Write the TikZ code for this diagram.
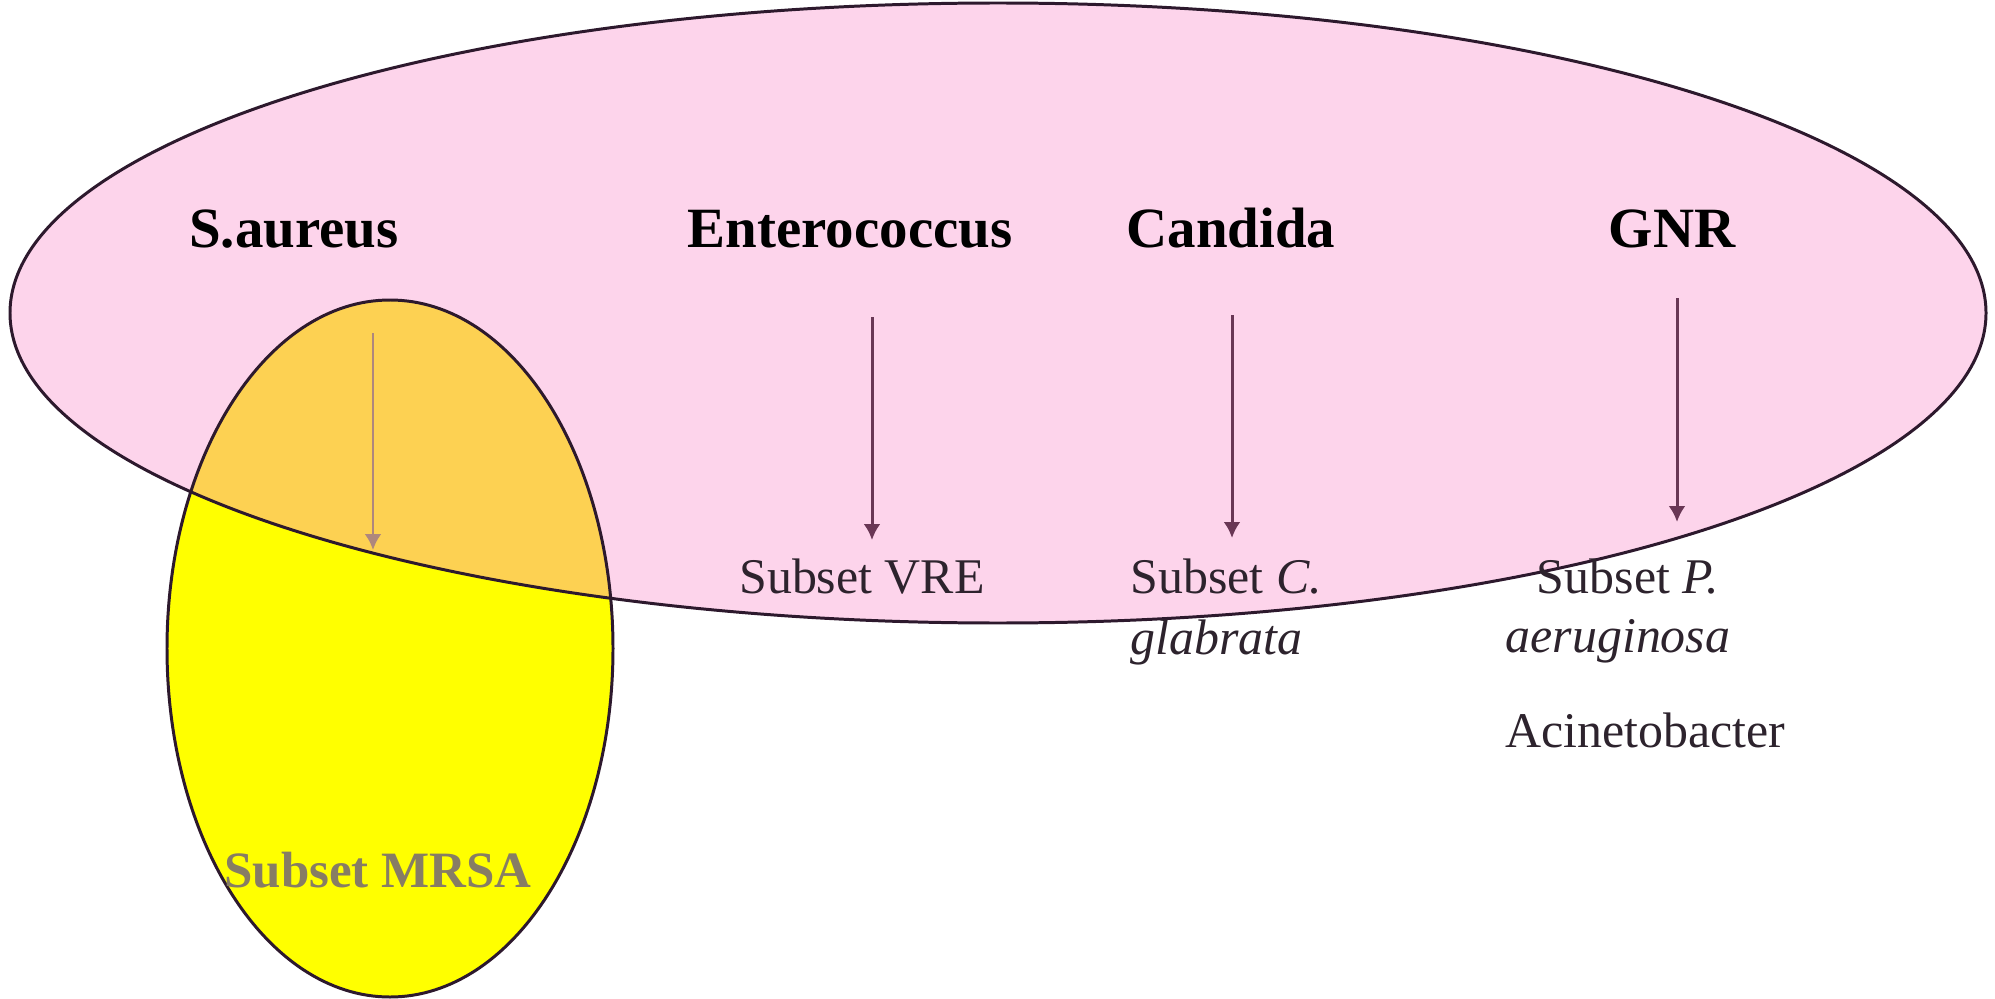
\documentclass[tikz,border=0pt]{standalone}
\usepackage{fontspec}
\setmainfont{Liberation Serif}
\usepackage{tikz}
\usetikzlibrary{calc, arrows.meta}
\tikzset{>={Latex[length = 1.6mm, width = 1.7mm]}}
\definecolor{mypink}{RGB}{253, 212, 235}
\definecolor{myyellow}{RGB}{255, 255, 0}
\definecolor{myorange}{RGB}{253, 209, 82}
\definecolor{myline}{RGB}{45, 25, 45}
\definecolor{myarrow}{RGB}{105, 55, 85}
\definecolor{mygrayarrow}{RGB}{175, 135, 125}
\definecolor{mytext}{RGB}{45, 35, 45}
\definecolor{mygraytext}{RGB}{135, 125, 100}
\newcommand{\hdfont}{\fontsize{16.2}{19}\selectfont\bfseries}
\newcommand{\subsetfont}{\fontsize{14.2}{16.8}\selectfont}

\begin{document}
\begin{tikzpicture}
\useasboundingbox (0, 0) rectangle (19.95, 9.98);

% the two sets
\fill[mypink] (9.98, 6.85) ellipse (9.88 and 3.10);
\fill[myyellow] (3.90, 3.495) ellipse (2.23 and 3.485);
\begin{scope}
\clip (3.90, 3.495) ellipse (2.23 and 3.485);
\fill[myorange] (9.98, 6.85) ellipse (9.88 and 3.10);
\end{scope}
\draw[myline, line width = 0.85pt] (9.98, 6.85) ellipse (9.88 and 3.10);
\draw[myline, line width = 0.85pt] (3.90, 3.495) ellipse (2.23 and 3.485);

% headings
\node[anchor = base, text = black] (saureus) at (2.94, 7.51) {\hdfont S.aureus};
\node[anchor = base, text = black] (entero) at (8.50, 7.51) {\hdfont Enterococcus};
\node[anchor = base, text = black] (candida) at (12.31, 7.51) {\hdfont Candida};
\node[anchor = base, text = black] (gnr) at (16.72, 7.51) {\hdfont GNR};

% subsets
\node[anchor = base, text = mytext] (vre) at (8.62, 4.05) {\subsetfont Subset VRE};
\node[anchor = base west, text = mytext] (subsetc) at (11.18, 4.05) {\subsetfont Subset \textit{C.}};
\node[anchor = base west, text = mytext] (glabrata) at ($(subsetc.base west) + (0, -0.61)$) {\subsetfont\textit{glabrata}};
\node[anchor = base, text = mytext] (subsetp) at (16.28, 4.05) {\subsetfont Subset \textit{P.}};
\node[anchor = base, text = mytext] (aerug) at ($(subsetp.base) + (-0.10, -0.59)$) {\subsetfont\textit{aeruginosa}};
\node[anchor = base, text = mytext] (acineto) at (16.45, 2.51) {\subsetfont Acinetobacter};
\node[anchor = base, text = mygraytext] (mrsa) at (3.78, 1.11) {\fontsize{14.5}{17}\selectfont\bfseries Subset MRSA};

% arrows
\coordinate (sa top) at (3.73, 6.65);
\coordinate (sa tip) at (3.73, 4.48);
\coordinate (en top) at (8.72, 6.81);
\coordinate (en tip) at (8.72, 4.58);
\coordinate (ca top) at (12.32, 6.83);
\coordinate (ca tip) at (12.32, 4.60);
\coordinate (gn top) at (16.77, 7.00);
\coordinate (gn tip) at (16.77, 4.76);
\draw[->, mygrayarrow, line width = 0.85pt] (sa top) -- (sa tip);
\draw[->, myarrow, line width = 0.85pt] (en top) -- (en tip);
\draw[->, myarrow, line width = 0.85pt] (ca top) -- (ca tip);
\draw[->, myarrow, line width = 0.85pt] (gn top) -- (gn tip);
\end{tikzpicture}
\end{document}
